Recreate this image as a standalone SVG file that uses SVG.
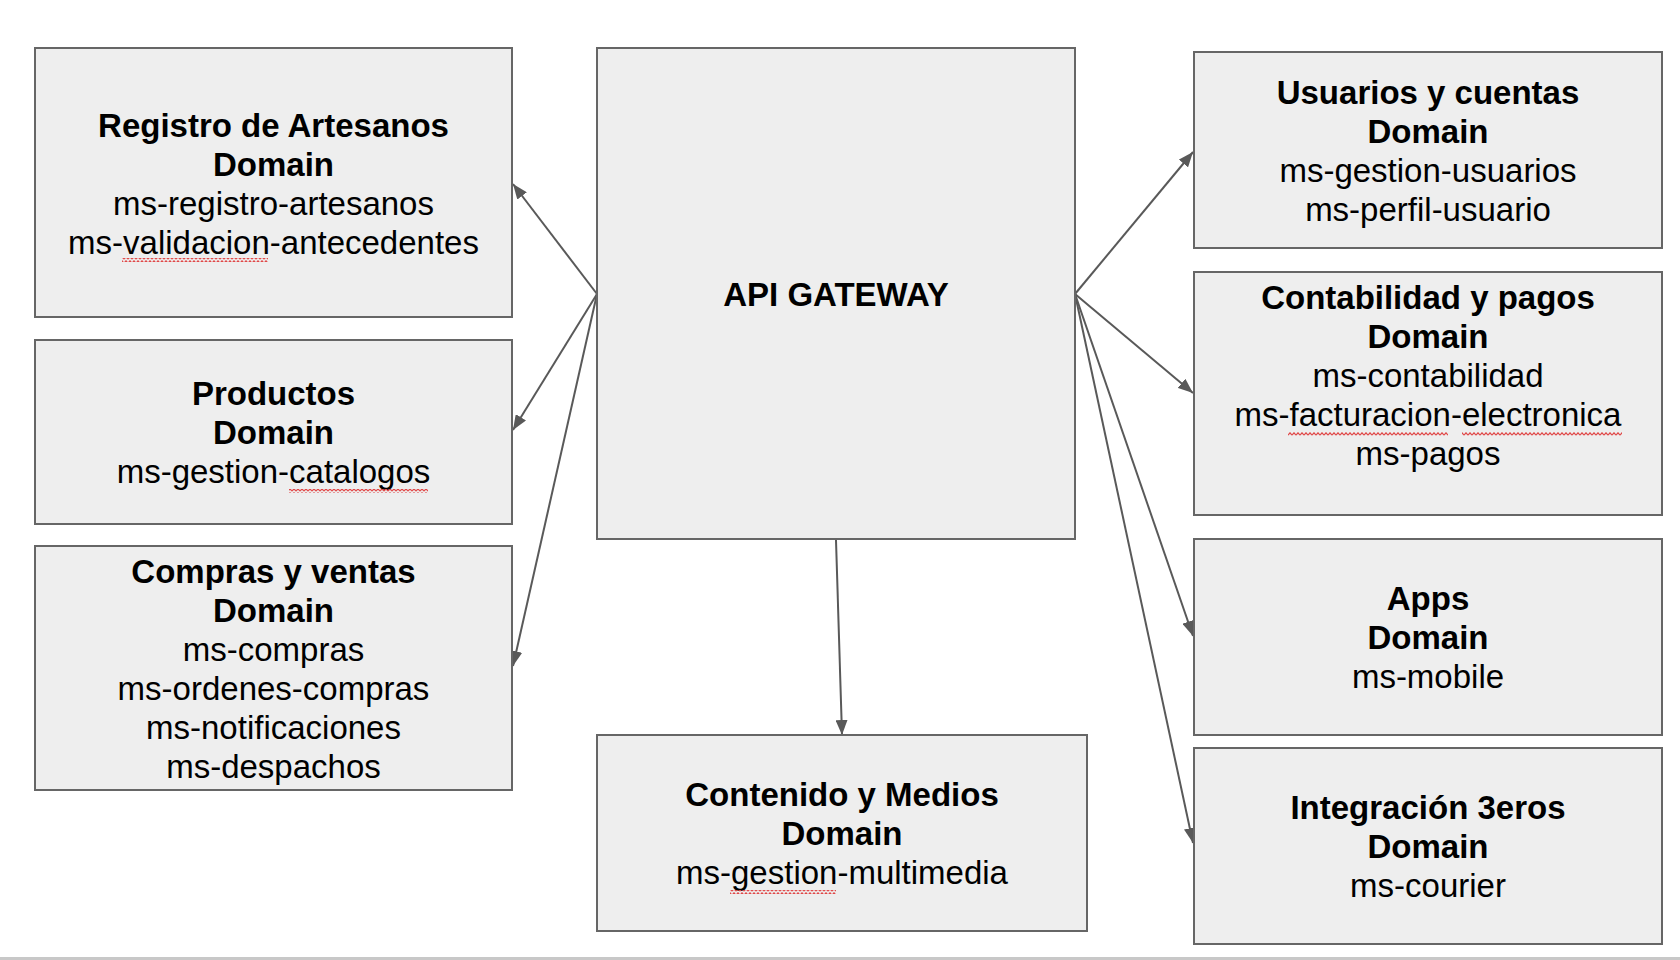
<svg xmlns="http://www.w3.org/2000/svg" width="1680" height="960" viewBox="0 0 1680 960">
  <style>
    .box { fill: #eeeeee; stroke: #666666; stroke-width: 2; }
    .t { font-family: "Liberation Sans", Arial, sans-serif; font-size: 33px; fill: #000000; text-anchor: middle; }
    .b { font-weight: bold; }
    .conn { stroke: #595959; stroke-width: 2; fill: none; marker-end: url(#arrow); }
    .squig { fill: url(#zig); }
  </style>
  <defs>
    <marker id="arrow" markerUnits="userSpaceOnUse" markerWidth="16" markerHeight="12" viewBox="0 0 16 12" refX="15" refY="6" orient="auto">
      <path d="M0,0 L15,6 L0,12 Z" fill="#595959"/>
    </marker>
    <pattern id="zig" patternUnits="userSpaceOnUse" width="4" height="4">
      <path d="M0,3.2 L2,0.8 L4,3.2" stroke="#e04848" stroke-width="1.2" fill="none"/>
    </pattern>
  </defs>
  <rect x="0" y="0" width="1680" height="960" fill="#ffffff"/>
  <rect x="0" y="957" width="1680" height="3" fill="#c8c8c8"/>

  <g id="connectors">
    <line class="conn" x1="597" y1="294" x2="513" y2="184"/>
    <line class="conn" x1="597" y1="294" x2="513" y2="430"/>
    <line class="conn" x1="597" y1="294" x2="513" y2="666"/>
    <line class="conn" x1="1075" y1="294" x2="1193" y2="152"/>
    <line class="conn" x1="1075" y1="294" x2="1193" y2="393"/>
    <line class="conn" x1="1075" y1="294" x2="1193" y2="636"/>
    <line class="conn" x1="1075" y1="294" x2="1193" y2="843"/>
    <line class="conn" x1="836" y1="540" x2="842" y2="735"/>
  </g>

  <g id="registro">
    <rect class="box" x="35" y="48" width="477" height="269"/>
    <text class="t b" x="273.5" y="137">Registro de Artesanos</text>
    <text class="t b" x="273.5" y="176">Domain</text>
    <text class="t" x="273.5" y="215">ms-registro-artesanos</text>
    <text class="t" x="273.5" y="254">ms-validacion-antecedentes</text>
    <rect class="squig" x="122" y="258" width="146" height="4"/>
  </g>

  <g id="productos">
    <rect class="box" x="35" y="340" width="477" height="184"/>
    <text class="t b" x="273.5" y="405">Productos</text>
    <text class="t b" x="273.5" y="444">Domain</text>
    <text class="t" x="273.5" y="483">ms-gestion-catalogos</text>
    <rect class="squig" x="289" y="489" width="139" height="4"/>
  </g>

  <g id="compras">
    <rect class="box" x="35" y="546" width="477" height="244"/>
    <text class="t b" x="273.5" y="583">Compras y ventas</text>
    <text class="t b" x="273.5" y="622">Domain</text>
    <text class="t" x="273.5" y="661">ms-compras</text>
    <text class="t" x="273.5" y="700">ms-ordenes-compras</text>
    <text class="t" x="273.5" y="739">ms-notificaciones</text>
    <text class="t" x="273.5" y="778">ms-despachos</text>
  </g>

  <g id="api-gateway">
    <rect class="box" x="597" y="48" width="478" height="491"/>
    <text class="t b" x="836" y="306">API GATEWAY</text>
  </g>

  <g id="contenido">
    <rect class="box" x="597" y="735" width="490" height="196"/>
    <text class="t b" x="842" y="806">Contenido y Medios</text>
    <text class="t b" x="842" y="845">Domain</text>
    <text class="t" x="842" y="884">ms-gestion-multimedia</text>
    <rect class="squig" x="730" y="890" width="106" height="4"/>
  </g>

  <g id="usuarios">
    <rect class="box" x="1194" y="52" width="468" height="196"/>
    <text class="t b" x="1428" y="104">Usuarios y cuentas</text>
    <text class="t b" x="1428" y="143">Domain</text>
    <text class="t" x="1428" y="182">ms-gestion-usuarios</text>
    <text class="t" x="1428" y="221">ms-perfil-usuario</text>
  </g>

  <g id="contabilidad">
    <rect class="box" x="1194" y="272" width="468" height="243"/>
    <text class="t b" x="1428" y="309">Contabilidad y pagos</text>
    <text class="t b" x="1428" y="348">Domain</text>
    <text class="t" x="1428" y="387">ms-contabilidad</text>
    <text class="t" x="1428" y="426">ms-facturacion-electronica</text>
    <text class="t" x="1428" y="465">ms-pagos</text>
    <rect class="squig" x="1288" y="432" width="160" height="4"/>
    <rect class="squig" x="1462" y="432" width="160" height="4"/>
  </g>

  <g id="apps">
    <rect class="box" x="1194" y="539" width="468" height="196"/>
    <text class="t b" x="1428" y="610">Apps</text>
    <text class="t b" x="1428" y="649">Domain</text>
    <text class="t" x="1428" y="688">ms-mobile</text>
  </g>

  <g id="integracion">
    <rect class="box" x="1194" y="748" width="468" height="196"/>
    <text class="t b" x="1428" y="819">Integración 3eros</text>
    <text class="t b" x="1428" y="858">Domain</text>
    <text class="t" x="1428" y="897">ms-courier</text>
  </g>
</svg>
